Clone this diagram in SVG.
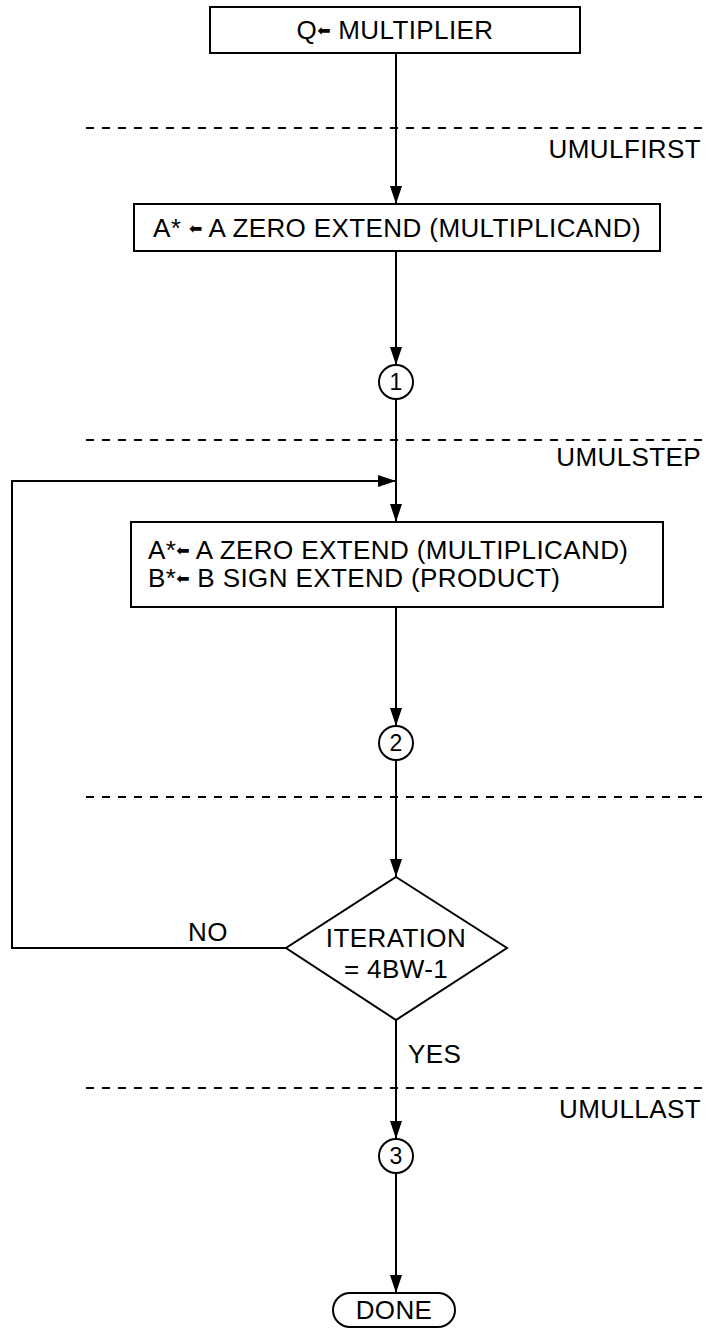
<svg xmlns="http://www.w3.org/2000/svg" width="708" height="1330" viewBox="0 0 708 1330">
  <defs>
    <marker id="arrow" markerUnits="userSpaceOnUse" markerWidth="18" markerHeight="12" refX="18" refY="6" orient="auto">
      <path d="M0,0 L18,6 L0,12 z" fill="#000"/>
    </marker>
  </defs>
  <style>
    .box { fill: #fff; stroke: #000; stroke-width: 2; }
    .line { fill: none; stroke: #000; stroke-width: 2; }
    .dash { fill: none; stroke: #000; stroke-width: 2; stroke-dasharray: 8 8; }
    text { font-family: "Liberation Sans", Arial, sans-serif; font-size: 26px; letter-spacing: 0.4px; fill: #000; }
    .mid { text-anchor: middle; }
    .end { text-anchor: end; }
    .num { font-size: 23px; letter-spacing: 0; }
    .arr { font-family: "DejaVu Sans", sans-serif; font-size: 16px; letter-spacing: 0; }
  </style>
  <rect width="708" height="1330" fill="#fff"/>

  <!-- phase separators -->
  <g id="phases">
    <line class="dash" x1="86" y1="128" x2="708" y2="128"/>
    <text class="end" x="701" y="158">UMULFIRST</text>
    <line class="dash" x1="86" y1="440" x2="708" y2="440"/>
    <text class="end" x="701" y="466">UMULSTEP</text>
    <line class="dash" x1="86" y1="797" x2="708" y2="797"/>
    <line class="dash" x1="86" y1="1088" x2="708" y2="1088"/>
    <text class="end" x="701" y="1118">UMULLAST</text>
  </g>

  <!-- connectors -->
  <g id="connectors">
    <line class="line" x1="396" y1="53" x2="396" y2="204" marker-end="url(#arrow)"/>
    <line class="line" x1="396" y1="251" x2="396" y2="365" marker-end="url(#arrow)"/>
    <line class="line" x1="396" y1="399" x2="396" y2="522" marker-end="url(#arrow)"/>
    <path class="line" d="M286,948 H12 V481 H396" marker-end="url(#arrow)"/>
    <line class="line" x1="396" y1="607" x2="396" y2="726" marker-end="url(#arrow)"/>
    <line class="line" x1="396" y1="760" x2="396" y2="877" marker-end="url(#arrow)"/>
    <line class="line" x1="396" y1="1020" x2="396" y2="1139" marker-end="url(#arrow)"/>
    <line class="line" x1="396" y1="1173" x2="396" y2="1293" marker-end="url(#arrow)"/>
    <text class="mid" x="208" y="941">NO</text>
    <text x="408" y="1063">YES</text>
  </g>

  <g id="load-q">
    <rect class="box" x="210" y="7" width="370" height="46"/>
    <text class="mid" x="395" y="39">Q<tspan class="arr" dy="-3">⬅</tspan><tspan dy="3"> MULTIPLIER</tspan></text>
  </g>

  <g id="first-step">
    <rect class="box" x="134" y="204" width="526" height="47"/>
    <text class="mid" x="397" y="237">A* <tspan class="arr" dy="-3">⬅</tspan><tspan dy="3"> A ZERO EXTEND (MULTIPLICAND)</tspan></text>
  </g>

  <g id="conn-1">
    <circle class="box" cx="396" cy="382" r="17"/>
    <text class="mid num" x="396" y="390">1</text>
  </g>

  <g id="step">
    <rect class="box" x="131" y="522" width="532" height="85"/>
    <text x="148" y="559">A*<tspan class="arr" dy="-3">⬅</tspan><tspan dy="3"> A ZERO EXTEND (MULTIPLICAND)</tspan></text>
    <text x="148" y="587">B*<tspan class="arr" dy="-3">⬅</tspan><tspan dy="3"> B SIGN EXTEND (PRODUCT)</tspan></text>
  </g>

  <g id="conn-2">
    <circle class="box" cx="396" cy="743" r="17"/>
    <text class="mid num" x="396" y="751">2</text>
  </g>

  <g id="test">
    <polygon class="box" points="396,877 507,948 396,1020 286,948"/>
    <text class="mid" x="396" y="947">ITERATION</text>
    <text class="mid" x="396" y="978">= 4BW-1</text>
  </g>

  <g id="conn-3">
    <circle class="box" cx="396" cy="1156" r="17"/>
    <text class="mid num" x="396" y="1164">3</text>
  </g>

  <g id="done">
    <rect class="box" x="333" y="1293" width="122" height="34" rx="17" ry="17"/>
    <text class="mid" x="394" y="1319">DONE</text>
  </g>
</svg>
